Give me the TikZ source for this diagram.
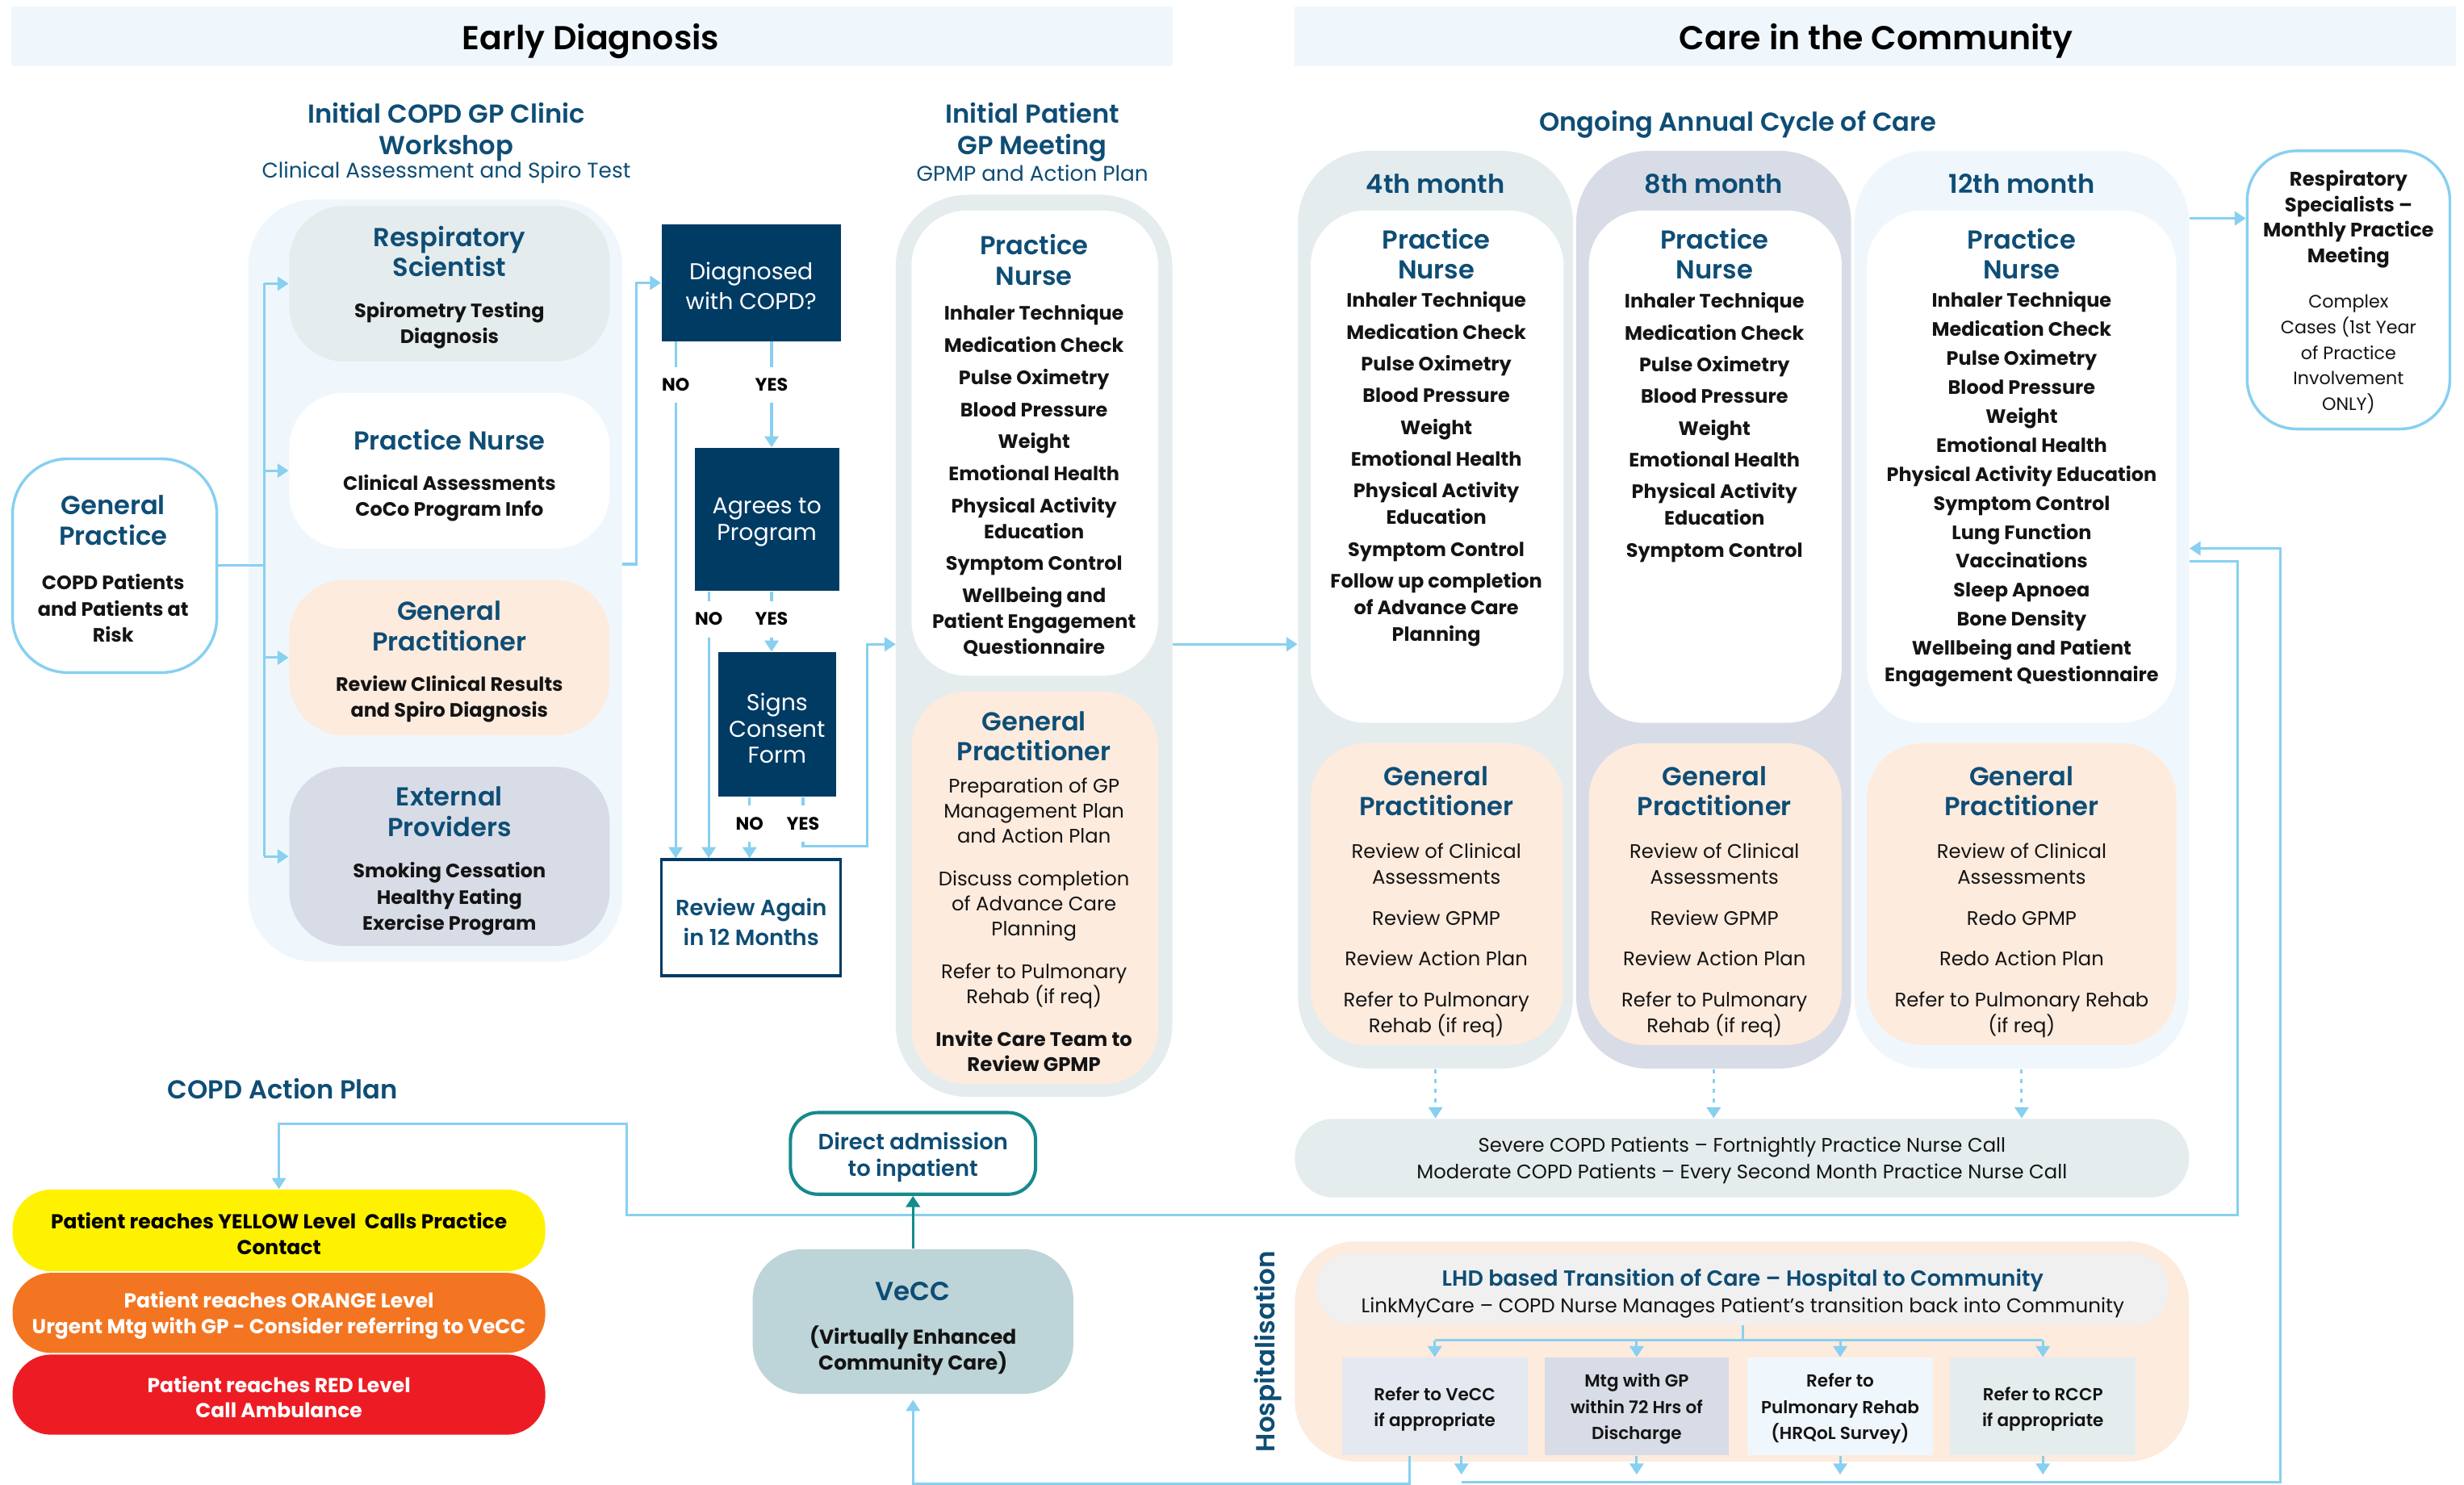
\documentclass[tikz,border=0pt]{standalone}
\usepackage{fontspec}
\setmainfont{Poppins}
\newfontfamily\semib{Poppins SemiBold}
\usetikzlibrary{arrows.meta,fit,calc}
\definecolor{ttlblue}{RGB}{14,77,117}
\definecolor{navy}{RGB}{0,59,100}
\definecolor{link}{RGB}{135,208,240}
\definecolor{pale}{RGB}{240,247,252}
\definecolor{mist}{RGB}{228,236,238}
\definecolor{slate}{RGB}{216,220,230}
\definecolor{peach}{RGB}{253,235,222}
\definecolor{vecc}{RGB}{189,213,216}
\definecolor{tealline}{RGB}{22,138,140}
\definecolor{ink}{RGB}{20,20,20}
\definecolor{lhdgrey}{RGB}{240,240,240}
\definecolor{hone}{RGB}{228,232,240}
\definecolor{alertyellow}{RGB}{255,242,0}
\definecolor{alertorange}{RGB}{243,117,33}
\definecolor{alertred}{RGB}{237,28,36}
\begin{document}
\begin{tikzpicture}[x=0.02cm,y=-0.02cm,
   panel/.style={fill=#1,rounded corners=20pt,inner sep=0pt},
   band/.style={fill=pale,inner sep=0pt},
   hdr/.style={text=black,font=\semib\fontsize{12}{14}\selectfont},
   grp/.style={text=ttlblue,align=center,font=\semib\fontsize{9.4}{11.4}\selectfont},
   sub/.style={text=ttlblue,font=\fontsize{7.7}{9}\selectfont},
   ttl/.style={text=ttlblue,align=center,font=\semib\fontsize{9.4}{11}\selectfont},
   itm/.style={text=ink,align=center,font=\bfseries\fontsize{7}{9.4}\selectfont},
   txt/.style={text=ink,align=center,font=\fontsize{7.1}{9.4}\selectfont},
   qbox/.style={fill=navy,inner sep=0pt},
   qtxt/.style={text=white,align=center,font=\fontsize{8.3}{11}\selectfont},
   yn/.style={inner sep=4pt,text=black,font=\bfseries\fontsize{6.5}{8}\selectfont},
   level/.style={rounded corners=14pt,inner sep=0pt},
   ltxt/.style={align=center,font=\bfseries\fontsize{7.3}{9.2}\selectfont},
   hbox/.style={inner sep=0pt},
   htxt/.style={align=center,text=ink,font=\semib\fontsize{6.3}{9.4}\selectfont},
   conn/.style={draw=link,line width=0.9pt},
   arr/.style={conn,-{Triangle[width=5pt,length=4pt]}}]
   \path[use as bounding box,fill=white] (0,0) rectangle (1568,945);

   \node[band,fit={(7,4) (746,42)}] (hdED) {};
   \node[hdr] (hdEDt) at (376,26) {Early Diagnosis};
   \node[band,fit={(824,4) (1563,42)}] (hdCC) {};
   \node[hdr] (hdCCt) at (1194,26) {Care in the Community};

   % early diagnosis
   \node[grp] (wsT) at (284,84) {Initial COPD GP Clinic\\Workshop};
   \node[sub] (wsS) at (284,110) {Clinical Assessment and Spiro Test};
   \node[panel=pale,rounded corners=24pt,fit={(158,127) (396,612)}] (ed) {};
   \node[panel=mist,fit={(184,131) (388,230)}] (rs) {};
   \node[ttl] (rsT) at (286,160) {Respiratory\\Scientist};
   \node[itm] (rsB) at (286,207) {Spirometry Testing\\Diagnosis};
   \node[panel=white,fit={(184,250) (388,349)}] (pn) {};
   \node[ttl] (pnT) at (286,280) {Practice Nurse};
   \node[itm] (pnB) at (286,317) {Clinical Assessments\\CoCo Program Info};
   \node[panel=peach,fit={(184,369) (388,468)}] (gpr) {};
   \node[ttl] (gprT) at (286,398.5) {General\\Practitioner};
   \node[itm] (gprB) at (286,445) {Review Clinical Results\\and Spiro Diagnosis};
   \node[panel=slate,fit={(184,488) (388,602)}] (ext) {};
   \node[ttl] (extT) at (286,516.5) {External\\Providers};
   \node[itm] (extB) at (286,572) {Smoking Cessation\\Healthy Eating\\Exercise Program};

   \node[panel=white,draw=link,line width=1pt,fit={(8,292) (138,428)}] (gp) {};
   \node[ttl] (gpT) at (72,331) {General\\Practice};
   \node[itm] (gpB) at (72,387) {COPD Patients\\and Patients at\\Risk};

   \node[qbox,fit={(421,143) (535,217)}] (dg) {};
   \node[qtxt] (dgT) at (478,182) {Diagnosed\\with COPD?};
   \node[qbox,fit={(442,285) (534,376)}] (ag) {};
   \node[qtxt,font=\fontsize{8.3}{9.7}\selectfont] (agT) at (488,332.5) {Agrees to\\Program};
   \node[qbox,fit={(457,415) (532,507)}] (sg) {};
   \node[qtxt,font=\fontsize{8.3}{9.4}\selectfont] (sgT) at (494.5,463.5) {Signs\\Consent\\Form};
   \node[draw=navy,line width=1pt,fill=white,inner sep=0pt,fit={(421,547) (535,621)}] (rv) {};
   \node[align=center,text=ttlblue,font=\semib\fontsize{8}{10.8}\selectfont] (rvT) at (478,586.5) {Review Again\\in 12 Months};
   \node[yn] (no1) at (430,245) {NO};
   \node[yn] (yes1) at (491,245) {YES};
   \node[yn] (no2) at (451,394) {NO};
   \node[yn] (yes2) at (491,394) {YES};
   \node[yn] (no3) at (477,524) {NO};
   \node[yn] (yes3) at (511,524) {YES};

   % initial patient GP meeting
   \node[grp] (ipT) at (657,84) {Initial Patient\\GP Meeting};
   \node[sub] (ipS) at (657,110) {GPMP and Action Plan};
   \node[panel=mist,rounded corners=26pt,fit={(570,124) (746,698)}] (ip) {};
   \node[panel=white,fit={(580,134) (737,430)}] (ipn) {};
   \node[ttl] (ipnT) at (658,165.5) {Practice\\Nurse};
   \node[itm] (ipnB) at (658,306) {Inhaler Technique\\[2.2pt]Medication Check\\[2.2pt]Pulse Oximetry\\[2.2pt]Blood Pressure\\[2.2pt]Weight\\[2.2pt]Emotional Health\\[2.2pt]Physical Activity\\Education\\[2.2pt]Symptom Control\\[2.2pt]Wellbeing and\\Patient Engagement\\Questionnaire};
   \node[panel=peach,fit={(580,440) (737,690)}] (igp) {};
   \node[ttl] (igpT) at (658,468.5) {General\\Practitioner};
   \node[txt,font=\fontsize{7.1}{9.1}\selectfont] (igpB) at (658,588.5) {Preparation of GP\\Management Plan\\and Action Plan\\[6.3pt]Discuss completion\\of Advance Care\\Planning\\[6.3pt]Refer to Pulmonary\\Rehab (if req)\\[6.3pt]\textbf{Invite Care Team to}\\\textbf{Review GPMP}};

   % ongoing annual cycle
   \node[grp] (cyT) at (1106,79) {Ongoing Annual Cycle of Care};
   \node[panel=mist,rounded corners=26pt,fit={(826,96) (1001,680)}] (c4) {};
   \node[panel=slate,rounded corners=26pt,fit={(1003,96) (1178,680)}] (c8) {};
   \node[panel=pale,rounded corners=26pt,fit={(1180,96) (1393,680)}] (c12) {};
   \node[ttl] (c4T) at (913.5,117) {4th month};
   \node[ttl] (c8T) at (1090.5,117) {8th month};
   \node[ttl] (c12T) at (1286.5,117) {12th month};

   \node[panel=white,fit={(834,134) (995,460)}] (pn4) {};
   \node[ttl] (pn4T) at (914,161.5) {Practice\\Nurse};
   \node[itm,font=\bfseries\fontsize{7}{9.6}\selectfont] (pn4B) at (914,298.5) {Inhaler Technique\\[1.9pt]Medication Check\\[1.9pt]Pulse Oximetry\\[1.9pt]Blood Pressure\\[1.9pt]Weight\\[1.9pt]Emotional Health\\[1.9pt]Physical Activity\\Education\\[1.9pt]Symptom Control\\[1.9pt]Follow up completion\\of Advance Care\\Planning};
   \node[panel=white,fit={(1011,134) (1172,460)}] (pn8) {};
   \node[ttl] (pn8T) at (1091,161.5) {Practice\\Nurse};
   \node[itm,font=\bfseries\fontsize{7}{9.6}\selectfont] (pn8B) at (1091,272) {Inhaler Technique\\[1.9pt]Medication Check\\[1.9pt]Pulse Oximetry\\[1.9pt]Blood Pressure\\[1.9pt]Weight\\[1.9pt]Emotional Health\\[1.9pt]Physical Activity\\Education\\[1.9pt]Symptom Control};
   \node[panel=white,fit={(1188,134) (1385,460)}] (pn12) {};
   \node[ttl] (pn12T) at (1286.5,161.5) {Practice\\Nurse};
   \node[itm,font=\bfseries\fontsize{7}{9.7}\selectfont] (pn12B) at (1286.5,311.5) {Inhaler Technique\\[0.8pt]Medication Check\\[0.8pt]Pulse Oximetry\\[0.8pt]Blood Pressure\\[0.8pt]Weight\\[0.8pt]Emotional Health\\[0.8pt]Physical Activity Education\\[0.8pt]Symptom Control\\[0.8pt]Lung Function\\[0.8pt]Vaccinations\\[0.8pt]Sleep Apnoea\\[0.8pt]Bone Density\\[0.8pt]Wellbeing and Patient\\Engagement Questionnaire};

   \node[panel=peach,fit={(834,473) (995,665)}] (gp4) {};
   \node[ttl] (gp4T) at (914,503.5) {General\\Practitioner};
   \node[txt] (gp4B) at (914,598.5) {Review of Clinical\\Assessments\\[5.4pt]Review GPMP\\[5.4pt]Review Action Plan\\[5.4pt]Refer to Pulmonary\\Rehab (if req)};
   \node[panel=peach,fit={(1011,473) (1172,665)}] (gp8) {};
   \node[ttl] (gp8T) at (1091,503.5) {General\\Practitioner};
   \node[txt] (gp8B) at (1091,598.5) {Review of Clinical\\Assessments\\[5.4pt]Review GPMP\\[5.4pt]Review Action Plan\\[5.4pt]Refer to Pulmonary\\Rehab (if req)};
   \node[panel=peach,fit={(1188,473) (1385,665)}] (gp12) {};
   \node[ttl] (gp12T) at (1286.5,503.5) {General\\Practitioner};
   \node[txt] (gp12B) at (1286.5,598.5) {Review of Clinical\\Assessments\\[5.4pt]Redo GPMP\\[5.4pt]Redo Action Plan\\[5.4pt]Refer to Pulmonary Rehab\\(if req)};

   \node[panel=mist,rounded corners=14pt,fit={(824,712) (1393,762)}] (sv) {};
   \node[txt,font=\fontsize{7.1}{9.7}\selectfont] (svT) at (1108.5,738.5) {Severe COPD Patients – Fortnightly Practice Nurse Call\\Moderate COPD Patients – Every Second Month Practice Nurse Call};

   \node[panel=white,draw=link,line width=1pt,rounded corners=18pt,fit={(1430,96) (1559,273)}] (rsp) {};
   \node[itm,font=\bfseries\fontsize{7.1}{9.3}\selectfont] (rspT) at (1494.5,139.5) {Respiratory\\Specialists –\\Monthly Practice\\Meeting};
   \node[txt,font=\fontsize{6.5}{9.25}\selectfont] (rspB) at (1494.5,225.5) {Complex\\Cases (1st Year\\of Practice\\Involvement\\ONLY)};

   % action plan levels
   \node[grp] (apT) at (180,693) {COPD Action Plan};
   \node[level,fill=alertyellow,fit={(8,757) (347,809)}] (yl) {};
   \node[ltxt,text=black] (ylT) at (177.5,785) {Patient reaches YELLOW Level\ \ Calls Practice\\Contact};
   \node[level,fill=alertorange,fit={(8,810) (347,861)}] (og) {};
   \node[ltxt,text=white] (ogT) at (177.5,837) {Patient reaches ORANGE Level\\Urgent Mtg with GP - Consider referring to VeCC};
   \node[level,fill=alertred,fit={(8,862) (347,913)}] (rd) {};
   \node[ltxt,text=white] (rdT) at (177.5,889) {Patient reaches RED Level\\Call Ambulance};

   \node[draw=tealline,line width=1.2pt,fill=white,rounded corners=10pt,inner sep=0pt,fit={(503,708) (659,760)}] (da) {};
   \node[align=center,text=ttlblue,font=\semib\fontsize{8}{9.7}\selectfont] (daT) at (581,736.5) {Direct admission\\to inpatient};
   \node[panel=vecc,rounded corners=18pt,fit={(479,795) (683,887)}] (vc) {};
   \node[ttl,font=\semib\fontsize{9.5}{11}\selectfont] (vcT) at (581,822) {VeCC};
   \node[itm,font=\bfseries\fontsize{7.3}{9.4}\selectfont] (vcB) at (581,859.5) {(Virtually Enhanced\\Community Care)};

   % hospitalisation
   \node[rotate=90,text=ttlblue,font=\semib\fontsize{9.5}{11}\selectfont] (hsT) at (807,860) {Hospitalisation};
   \node[panel=peach,rounded corners=22pt,fit={(824,790) (1393,930)}] (hp) {};
   \node[panel=lhdgrey,rounded corners=12pt,fit={(838,798) (1380,843)}] (lhd) {};
   \node[text=ttlblue,font=\semib\fontsize{7.9}{9}\selectfont] (lhdT) at (1109,815) {LHD based Transition of Care – Hospital to Community};
   \node[text=ink,font=\fontsize{7.2}{9}\selectfont] (lhdB) at (1109,832) {LinkMyCare – COPD Nurse Manages Patient’s transition back into Community};
   \node[hbox,fill=hone,fit={(854,864) (972,926)}] (h1) {};
   \node[htxt] (h1T) at (913,896.5) {Refer to VeCC\\if appropriate};
   \node[hbox,fill=slate,fit={(983,864) (1100,926)}] (h2) {};
   \node[htxt] (h2T) at (1041.5,896.5) {Mtg with GP\\within 72 Hrs of\\Discharge};
   \node[hbox,fill=pale,fit={(1112,864) (1230,926)}] (h3) {};
   \node[htxt] (h3T) at (1171,896.5) {Refer to\\Pulmonary Rehab\\(HRQoL Survey)};
   \node[hbox,fill=mist,fit={(1241,864) (1359,926)}] (h4) {};
   \node[htxt] (h4T) at (1300,896.5) {Refer to RCCP\\if appropriate};

   % connectors
   \coordinate (bus) at (168,360);
   \draw[conn] (gp.east) -- (bus);
   \draw[conn] (bus |- rs.west) -- (bus |- ext.west);
   \foreach \b in {rs,pn,gpr,ext} \draw[arr] (bus |- \b.west) -- (\b.west);
   \coordinate (edOut) at (396,359);
   \draw[arr] (edOut) -- ++(9,0) |- (dg.west);

   \draw[conn] (dg.south -| no1) -- (no1);
   \draw[arr] (no1) -- (rv.north -| no1);
   \draw[conn] (dg.south -| yes1) -- (yes1);
   \draw[arr] (yes1) -- (ag.north -| yes1);
   \draw[conn] (ag.south -| no2) -- (no2);
   \draw[arr] (no2) -- (rv.north -| no2);
   \draw[conn] (ag.south -| yes2) -- (yes2);
   \draw[arr] (yes2) -- (sg.north -| yes2);
   \draw[conn] (sg.south -| no3) -- (no3);
   \draw[arr] (no3) -- (rv.north -| no3);
   \draw[conn] (sg.south -| yes3) -- (yes3);
   \coordinate (ipIn) at (570,410);
   \draw[arr] (yes3.south) -- ++(0,3) -| ($(ipIn)+(-18,0)$) -- (ipIn);

   \draw[arr] (ip.east |- ipIn) -- (c4.west |- ipIn);
   \foreach \c in {c4,c8,c12} \draw[arr,dash pattern=on 1.5pt off 2pt] (\c.south) -- (\c.south |- sv.north);
   \coordinate (spIn) at (1430,139);
   \draw[arr] (c12.east |- spIn) -- (rsp.west |- spIn);

   \coordinate (cycOut) at (1398,357);
   \draw[arr] (c12.east |- cycOut) -| (1424,773) -| (399,715) -| (yl.north);

   \coordinate (hb) at (1108,853);
   \draw[conn] (lhd.south) -- (lhd.south |- hb);
   \draw[conn] (h1.north |- hb) -- (h4.north |- hb);
   \foreach \h in {h1,h2,h3,h4} \draw[arr] (\h.north |- hb) -- (\h.north);

   \coordinate (retR) at (1451,349);
   \draw[arr] ($(h1.south)+(17,0)$) -- ++(0,12);
   \foreach \h in {h2,h3,h4} \draw[arr] (\h.south) -- ++(0,12);
   \draw[arr] ($(h1.south)+(17,17)$) -| (retR) -- (c12.east |- retR);
   \draw[arr,shorten >=2pt] ($(h1.south)+(-16,0)$) -- ++(0,18) -| (vc.south);
   \draw[tealline,line width=1pt,-{Triangle[width=5pt,length=4pt]}] (vc.north) -- (da.south);
\end{tikzpicture}
\end{document}
